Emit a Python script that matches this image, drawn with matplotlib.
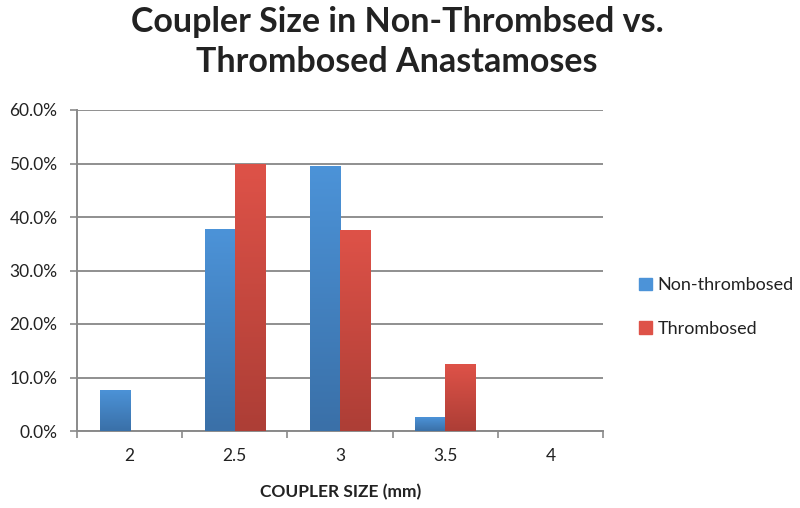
import matplotlib
matplotlib.use("Agg")
import matplotlib.pyplot as plt
import numpy as np
from matplotlib.colors import LinearSegmentedColormap
from matplotlib.patches import Patch

plt.rcParams['font.family'] = ['Lato', 'DejaVu Sans']

categories = ["2", "2.5", "3", "3.5", "4"]
non_thrombosed = [7.7, 37.7, 49.6, 2.6, 0.0]
thrombosed = [0.0, 50.0, 37.5, 12.5, 0.0]
series_names = ["Non-thrombosed", "Thrombosed"]
title_lines = ["Coupler Size in Non-Thrombsed vs.", "Thrombosed Anastamoses"]
xlabel = "COUPLER SIZE (mm)"

fig = plt.figure(figsize=(8, 5.08), dpi=100)
ax = fig.add_axes([77/800, 1-431/508, (603-77)/800, (431-110)/508])

x = np.arange(len(categories))
w = 1/3.5
blue_top, blue_bot = "#4c93d8", "#3a70a8"
red_top, red_bot = "#de5248", "#ad3e36"
b1 = ax.bar(x - w/2, non_thrombosed, w, color=blue_top, zorder=3)
b2 = ax.bar(x + w/2, thrombosed, w, color=red_top, zorder=3)

def grad(bars, top, bot):
    cmap = LinearSegmentedColormap.from_list("g", [bot, top])
    for p in bars:
        h = p.get_height()
        if h <= 0:
            continue
        x0 = p.get_x(); ww = p.get_width()
        im = ax.imshow(np.linspace(0, 1, 100).reshape(-1, 1),
                       extent=[x0, x0+ww, 0, h], origin="lower",
                       aspect="auto", cmap=cmap, vmin=0, vmax=1, zorder=4)
        im.set_clip_path(p)

grad(b1, blue_top, blue_bot)
grad(b2, red_top, red_bot)

ax.set_xlim(-0.5, 4.5)
ax.set_ylim(0, 60)
ax.set_yticks(np.arange(0, 61, 10))
ax.set_yticklabels([f"{v:.1f}%" for v in np.arange(0, 61, 10)], fontsize=12.5, color="#222222")
ax.set_xticks(x)
ax.set_xticklabels(categories, fontsize=12.5, color="#222222")
ax.set_xticks(np.arange(-0.5, 4.6, 1), minor=True)
ax.tick_params(axis='x', which='major', length=0, pad=12)
ax.tick_params(axis='x', which='minor', length=5, color="#8a8a8a", width=1.2)
ax.tick_params(axis='y', length=5, color="#8a8a8a", width=1.2, pad=9)
ax.grid(axis='y', color="#8f8f8f", linewidth=1.4, zorder=0)
for s in ["top", "right"]:
    ax.spines[s].set_visible(False)
for s in ["left", "bottom"]:
    ax.spines[s].set_color("#8a8a8a")
    ax.spines[s].set_linewidth(1.4)

fig.text(341/800, 1-497/508, xlabel, ha="center", va="baseline", fontsize=12.5,
         fontweight="bold", color="#222222")

fig.text(397/800, 1-32/508, title_lines[0], ha="center", va="baseline", fontsize=24.5,
         fontweight="bold", color="#222222")
fig.text(397/800, 1-72/508, title_lines[1], ha="center", va="baseline", fontsize=24.5,
         fontweight="bold", color="#222222")

handles = [Patch(facecolor=blue_top, edgecolor=blue_top), Patch(facecolor=red_top, edgecolor=red_top)]
leg = fig.legend(handles, series_names, loc="center left", bbox_to_anchor=(623/800, 1-307/508),
                 frameon=False, fontsize=13, handlelength=0.7, handleheight=0.7,
                 labelspacing=1.5, handletextpad=0.3)
for t in leg.get_texts():
    t.set_color("#222222")

fig.savefig("out.png", dpi=100)
